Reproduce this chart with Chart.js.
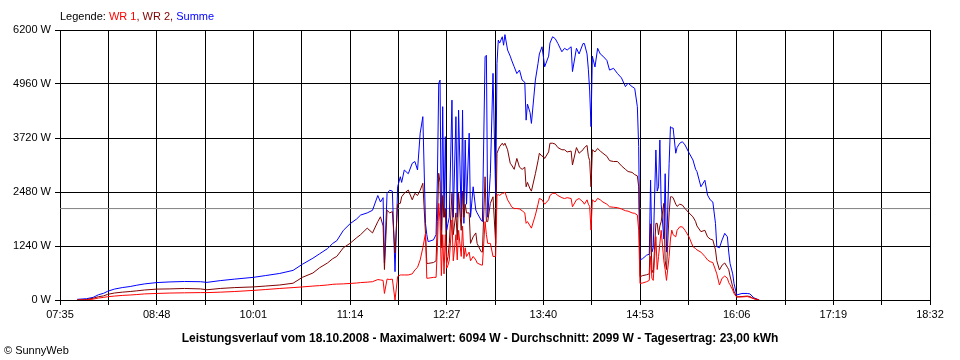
<!DOCTYPE html>
<html>
<head>
<meta charset="utf-8">
<script src="https://cdn.jsdelivr.net/npm/chart.js@4.4.0/dist/chart.umd.min.js"></script>
<style>
  body { margin: 0; background: #fff; }
  #wrap { position: relative; width: 960px; height: 360px; }
  .txt { position: absolute; font-family: "Liberation Sans", Arial, sans-serif; font-size: 11px; line-height: 13px; color: #000; white-space: nowrap; }
  #titel { left: 0; width: 960px; text-align: center; top: 331px; font-weight: bold; font-size: 12px; line-height: 14px; }
</style>
</head>
<body>
<div id="wrap">
  <canvas id="chart" width="960" height="360"></canvas>
  <div class="txt" style="left:60px; top:10px;">Legende: <span style="color:#ff0000">WR 1</span><span style="color:#800000">, WR 2,</span> <span style="color:#0000ff">Summe</span></div>
  <div class="txt" id="titel">Leistungsverlauf vom 18.10.2008 - Maximalwert: 6094 W - Durchschnitt: 2099 W - Tagesertrag: 23,00 kWh</div>
  <div class="txt" style="left:4px; top:344px;">© SunnyWeb</div>
</div>
<script>
// Uhrzeiten der Messpunkte
var zeiten = [
  "07:48","07:55","08:00","08:04","08:08","08:11","08:16","08:22","08:28","08:33",
  "08:39","08:48","08:58","09:09","09:21","09:26","09:36","09:47","10:01","10:10",
  "10:21","10:31","10:38","10:46","10:51","10:57","11:01","11:04","11:09","11:14",
  "11:19","11:22","11:27","11:31","11:35","11:37","11:39","11:40","11:42","11:44",
  "11:46","11:48","11:50","11:52","11:53","11:55","11:58","12:01","12:03","12:05",
  "12:07","12:09","12:11","12:12","12:13","12:17","12:19","12:20","12:21","12:22",
  "12:23","12:24","12:25","12:26","12:27","12:28","12:29","12:31","12:32","12:34",
  "12:35","12:36","12:38","12:39","12:40","12:41","12:42","12:44","12:45","12:47",
  "12:49","12:50","12:53","12:54","12:56","12:57","12:58","13:00","13:02","13:04",
  "13:05","13:06","13:07","13:09","13:10","13:11","13:13","13:15","13:16","13:18",
  "13:20","13:22","13:24","13:26","13:27","13:28","13:30","13:31","13:34","13:36",
  "13:37","13:39","13:40","13:41","13:44","13:45","13:47","13:49","13:51","13:54",
  "13:56","13:58","14:01","14:02","14:05","14:07","14:10","14:11","14:13","14:14",
  "14:15","14:16","14:17","14:19","14:21","14:23","14:25","14:28","14:30","14:33",
  "14:36","14:39","14:42","14:44","14:47","14:49","14:51","14:52","14:53","14:55",
  "14:58","15:00","15:01","15:02","15:03","15:05","15:06","15:07","15:08","15:09",
  "15:11","15:12","15:13","15:15","15:16","15:17","15:18","15:20","15:21","15:23",
  "15:25","15:27","15:30","15:33","15:35","15:36","15:39","15:42","15:44","15:46",
  "15:48","15:50","15:51","15:53","15:55","15:57","15:59","16:00","16:01","16:03",
  "16:04","16:06","16:10","16:14","16:16","16:19","16:23"
];
// WR 1 (W)
var wr1 = [
  0,0,20,45,60,75,90,105,115,125,
  140,150,160,165,170,170,180,195,220,240,
  265,285,300,320,330,345,360,365,370,380,
  390,400,410,420,470,460,450,150,480,470,
  480,0,540,575,575,575,575,600,690,750,
  920,1200,1530,500,500,520,520,1200,2220,1800,
  560,1500,600,1500,730,800,920,1840,900,1500,
  920,1600,1000,1700,950,1200,1000,1100,900,1000,
  920,850,805,800,1800,1500,1300,1300,1000,1000,
  2410,2420,2400,2450,2450,2480,2300,2200,2140,2100,
  2100,2090,2050,2000,1760,1800,1700,1650,1950,2200,
  2335,2300,2250,2200,2300,2400,2450,2450,2400,2350,
  2330,2350,2330,2140,2300,2330,2250,2200,2300,2200,
  2150,1605,2300,2250,2335,2300,2250,2200,2140,2130,
  2120,2090,2050,2040,2000,1990,1950,1605,380,390,
  420,450,1000,500,450,1455,700,1000,1300,1600,
  900,700,450,1000,1400,1605,1500,1450,1600,1680,
  1680,1600,1450,1225,1180,1150,1100,1000,920,880,
  860,690,600,345,500,550,500,400,350,230,
  150,70,70,80,60,30,0
];
// WR 2 (W)
var wr2 = [
  0,10,40,75,95,130,160,180,195,210,
  230,250,255,265,255,235,265,285,300,320,
  345,385,520,620,740,850,950,1000,1200,1300,
  1430,1500,1650,1540,1800,1910,1700,700,2060,2000,
  2030,1080,2200,2220,2370,2450,2525,2300,2450,2400,
  2520,2680,1530,840,840,860,900,1800,2910,2700,
  1200,2400,1900,2100,840,1000,1300,2450,1500,2000,
  1380,2450,1600,2500,1900,2200,2000,2000,1300,1450,
  1540,1300,1110,1100,2830,1800,1800,2220,2370,1300,
  3370,3450,3520,3600,3550,3600,3450,3140,3100,3000,
  3250,3050,3000,3050,2600,2700,2550,2500,2900,3200,
  3370,3300,3300,3250,3400,3600,3600,3580,3500,3450,
  3450,3400,3420,3100,3500,3370,3450,3500,3550,3300,
  3200,2600,3450,3400,3480,3420,3370,3300,3200,3180,
  3180,3080,3000,2950,2930,2880,2850,2600,535,560,
  580,600,1750,700,620,1760,1760,1500,1700,1800,
  2220,900,700,2000,2370,2370,2350,2200,2150,2200,
  2180,2100,2000,1910,1800,1700,1570,1600,1450,1400,
  1380,1150,900,690,800,850,750,700,550,305,
  200,70,80,90,80,30,0
];
// Summe (W)
var summe = [
  15,30,60,120,155,200,250,285,310,340,
  370,400,415,425,420,405,445,480,520,560,
  610,680,820,960,1060,1180,1300,1360,1600,1750,
  1860,1950,2000,2060,2400,2250,2350,850,2450,2520,
  2500,650,2600,2830,2700,2985,2900,3140,3180,2985,
  3830,4210,1760,1500,1340,1380,1500,2800,4975,5050,
  1600,4440,1900,3750,1600,1760,1900,4590,1900,4210,
  1900,4360,1900,4360,1760,3675,2200,3830,1900,2600,
  2065,2000,1835,1800,5585,5620,1900,2900,5205,2400,
  5435,5970,5900,6045,5850,6094,5740,5600,5510,5355,
  5200,5280,5050,5000,4130,4500,4300,4055,5050,5435,
  5650,5815,5600,5355,5600,5900,6045,6000,5890,5700,
  5780,5740,5815,5245,5780,5650,5890,5890,5650,5300,
  4800,3980,5600,5350,5780,5650,5600,5500,5280,5320,
  5200,5100,4900,4980,4900,4860,4440,3520,920,950,
  1030,1050,2755,1100,1200,3445,2500,2600,3675,2200,
  1400,2900,1100,3140,3980,3950,3950,3370,3500,3600,
  3635,3560,3380,3215,3000,2950,2600,2750,2410,2300,
  2250,1760,1225,1200,1380,1530,1450,1100,840,600,
  380,115,150,150,140,50,0
];
var durchschnitt = 2099;
var startZeit = "07:35";
var endZeit = "18:32";
var yMax = 6200;
var yStep = 1240;

function inMinuten(s) {
    var t = s.split(":");
    return parseInt(t[0], 10) * 60 + parseInt(t[1], 10);
}
function alsZeit(m) {
    m = Math.round(m);
    var h = Math.floor(m / 60), mm = m % 60;
    return (h < 10 ? "0" : "") + h + ":" + (mm < 10 ? "0" : "") + mm;
}
function punkte(werte) {
    var p = [];
    for (var i = 0; i < zeiten.length; i++) {
        p.push({ x: inMinuten(zeiten[i]), y: werte[i] });
    }
    return p;
}

var xMin = inMinuten(startZeit);
var xMax = inMinuten(endZeit);
var xStep = (xMax - xMin) / 18;
var schrift = { family: "Liberation Sans", size: 11 };

var linie = function (label, werte, farbe, reihenfolge) {
    return {
        label: label,
        data: punkte(werte),
        borderColor: farbe,
        borderWidth: 1,
        pointRadius: 0,
        fill: false,
        tension: 0,
        order: reihenfolge
    };
};

var datos = {
    type: "line",
    data: {
        datasets: [
            linie("WR 1", wr1, "#ff0000", 1),
            linie("WR 2", wr2, "#800000", 2),
            linie("Summe", summe, "#0000ff", 3),
            {
                label: "Durchschnitt",
                data: [{ x: xMin, y: durchschnitt }, { x: xMax, y: durchschnitt }],
                borderColor: "#808080",
                borderWidth: 1,
                pointRadius: 0,
                order: 4
            }
        ]
    },
    options: {
        responsive: false,
        animation: false,
        layout: { padding: { top: 30, right: 30, left: 0, bottom: 0 } },
        plugins: {
            legend: { display: false },
            tooltip: { enabled: false }
        },
        scales: {
            x: {
                type: "linear",
                min: xMin,
                max: xMax,
                afterBuildTicks: function (s) {
                    var t = [];
                    for (var k = 0; k <= 18; k++) t.push({ value: xMin + k * xStep });
                    s.ticks = t;
                },
                afterFit: function (s) { s.height = 60; },
                grid: { color: "#000", lineWidth: 1, tickLength: 5 },
                border: { color: "#000" },
                ticks: {
                    color: "#000",
                    font: schrift,
                    maxRotation: 0,
                    autoSkip: false,
                    padding: 3,
                    callback: function (v) {
                        var k = Math.round((v - xMin) / xStep);
                        return k % 2 === 0 ? alsZeit(v) : "";
                    }
                }
            },
            y: {
                min: 0,
                max: yMax,
                afterFit: function (s) { s.width = 60; },
                grid: { color: "#000", lineWidth: 1, tickLength: 5 },
                border: { color: "#000" },
                ticks: {
                    stepSize: yStep,
                    color: "#000",
                    font: schrift,
                    padding: 4,
                    callback: function (v) { return v + " W"; }
                }
            }
        }
    }
};

var canvas = document.getElementById("chart").getContext("2d");
window.grafik = new Chart(canvas, datos);
</script>
</body>
</html>
